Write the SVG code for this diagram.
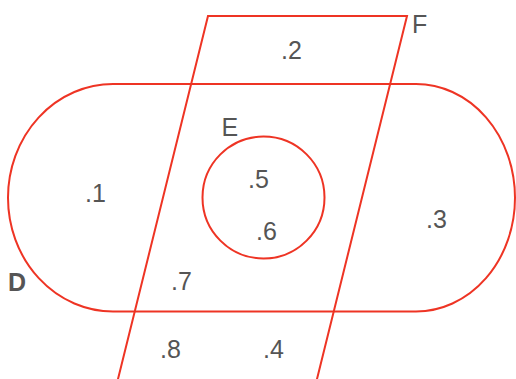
<svg xmlns="http://www.w3.org/2000/svg" width="516" height="379" viewBox="0 0 516 379">
<style>
.shape{fill:none;stroke:#ee3424;stroke-width:2}
.t{font-family:"Liberation Sans",Arial,sans-serif;font-size:25px;fill:#555}
.b{font-weight:bold}
</style>
<rect width="516" height="379" fill="#fff"/>
<g id="D">
<path class="shape" d="M113,84 H416 A99,113.75 0 0 1 416,311.5 H113 A105,113.75 0 0 1 113,84 Z"/>
<text class="t b" x="8" y="291">D</text>
</g>
<g id="F">
<path class="shape" d="M208,16 H407 L311.8,400 H112.8 Z"/>
<text class="t" x="412" y="33">F</text>
</g>
<g id="E">
<circle class="shape" cx="263.5" cy="197.5" r="61"/>
<text class="t" x="221.5" y="136">E</text>
</g>
<g id="regions">
<text class="t" x="281" y="59">.2</text>
<text class="t" x="85" y="202">.1</text>
<text class="t" x="248" y="188">.5</text>
<text class="t" x="256" y="240">.6</text>
<text class="t" x="426" y="228">.3</text>
<text class="t" x="171" y="290">.7</text>
<text class="t" x="160" y="358">.8</text>
<text class="t" x="263" y="358">.4</text>
</g>
<g id="connectors"></g>
</svg>
